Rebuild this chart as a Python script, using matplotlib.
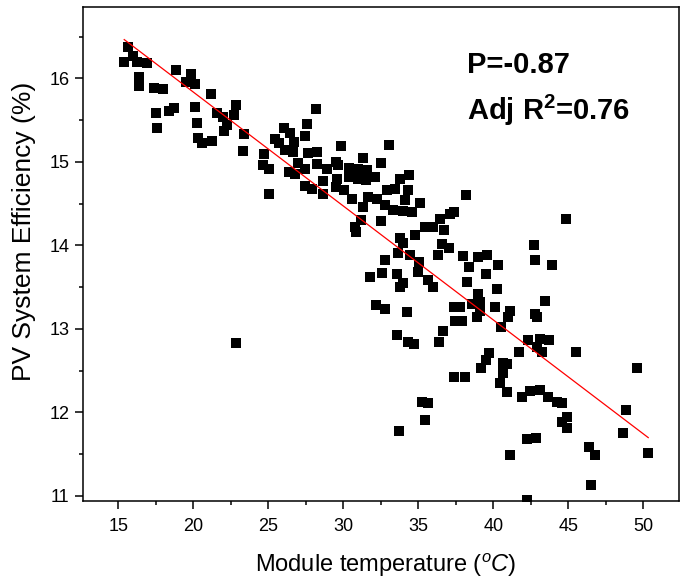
import matplotlib
matplotlib.use("Agg")
import matplotlib.pyplot as plt
from matplotlib.ticker import MultipleLocator

plt.rcParams['font.family'] = ['Liberation Sans', 'DejaVu Sans']
plt.rcParams['mathtext.fontset'] = 'custom'
plt.rcParams['mathtext.rm'] = 'Liberation Sans'
plt.rcParams['mathtext.it'] = 'Liberation Sans:italic'
plt.rcParams['mathtext.bf'] = 'Liberation Sans:bold'

# module temperature (C) and PV system efficiency (%)
temp = [15.63, 15.96, 15.40, 16.23, 16.89, 16.40, 16.40, 17.38, 18.00, 18.83,
        19.83, 19.51, 20.11, 21.16, 17.51, 17.60, 18.40, 18.71, 20.11, 20.23,
        20.33, 20.56, 21.23, 21.60, 21.96, 22.23, 22.05, 22.83, 22.71, 23.40,
        23.33, 24.73, 24.63, 25.05, 25.05, 25.45, 22.83,
        28.18, 27.56, 26.07, 27.45, 26.45, 25.73, 26.71, 26.11, 26.67, 27.63,
        28.27, 27.00, 27.45, 28.23, 26.40, 26.78, 28.89, 29.85, 29.51, 29.67,
        28.63, 27.45, 27.89, 28.67, 29.51, 30.07, 30.40, 30.40, 31.00, 31.33,
        31.00, 31.51, 32.11, 32.49, 33.07, 30.56, 31.29, 31.67, 32.23, 32.78,
        33.33, 34.00, 34.56, 32.89, 33.45, 34.33, 33.78, 34.40, 34.11, 35.11,
        35.45, 34.78, 33.78, 33.96, 30.78, 30.85, 31.16, 32.49, 33.67, 34.45,
        35.07, 32.78, 31.78, 32.56, 33.56, 35.00, 29.56, 31.56,
        38.18, 37.11, 37.38, 36.45, 36.73, 36.00, 36.56, 37.05, 36.33, 37.96,
        39.00, 39.60, 40.29, 38.40, 39.49, 33.78, 33.96, 35.67, 36.00, 38.23,
        39.00, 39.11, 40.27, 32.18, 32.78, 34.27, 37.38, 37.78, 37.45, 37.89,
        38.89, 40.11, 41.11, 41.00, 40.49, 36.62, 36.40, 33.60, 34.29, 34.71,
        41.71, 39.73, 39.51, 39.16, 40.63, 40.67, 37.38, 38.11,
        42.78, 43.89, 43.45, 38.56, 39.11, 42.78, 42.89, 42.33, 43.11, 43.73,
        43.22, 42.89, 45.51, 40.89, 40.44, 40.89, 41.89, 42.45, 43.11, 43.67,
        44.23, 44.56, 44.89, 44.56, 44.89, 35.23, 35.67, 35.45, 33.70, 42.23,
        42.85, 41.11, 46.40, 46.78,
        49.56, 48.83, 48.63, 50.33, 46.51, 42.23, 44.83, 42.71]

eff = [16.38, 16.27, 16.19, 16.19, 16.18, 16.01, 15.91, 15.89, 15.87, 16.10,
       16.05, 15.95, 15.93, 15.81, 15.59, 15.40, 15.61, 15.65, 15.66, 15.46,
       15.29, 15.23, 15.25, 15.58, 15.54, 15.44, 15.37, 15.68, 15.56, 15.33,
       15.13, 15.09, 14.96, 14.92, 14.61, 15.27, 12.83,
       15.63, 15.45, 15.40, 15.31, 15.34, 15.22, 15.24, 15.14, 15.12, 15.10,
       15.12, 14.99, 14.92, 14.98, 14.88, 14.85, 14.91, 15.19, 15.00, 14.96,
       14.77, 14.71, 14.67, 14.62, 14.70, 14.66, 14.93, 14.82, 14.92, 15.05,
       14.80, 14.78, 14.82, 14.99, 15.20, 14.55, 14.46, 14.58, 14.56, 14.48,
       14.42, 14.41, 14.40, 14.66, 14.68, 14.66, 14.80, 14.84, 14.54, 14.51,
       14.22, 14.13, 14.09, 14.03, 14.22, 14.16, 14.30, 14.29, 13.91, 13.88,
       13.80, 13.83, 13.62, 13.67, 13.66, 13.68, 14.80, 14.90,
       14.60, 14.38, 14.40, 14.31, 14.18, 14.22, 14.02, 13.97, 13.88, 13.87,
       13.86, 13.88, 13.77, 13.74, 13.66, 13.50, 13.55, 13.58, 13.50, 13.56,
       13.42, 13.32, 13.48, 13.29, 13.24, 13.20, 13.26, 13.26, 13.10, 13.10,
       13.14, 13.26, 13.21, 13.14, 13.02, 12.98, 12.84, 12.93, 12.84, 12.82,
       12.72, 12.71, 12.63, 12.53, 12.59, 12.47, 12.43, 12.43,
       13.82, 13.76, 13.34, 13.30, 13.22, 13.18, 13.14, 12.87, 12.88, 12.87,
       12.72, 12.78, 12.72, 12.58, 12.35, 12.25, 12.19, 12.26, 12.27, 12.19,
       12.13, 12.11, 11.95, 11.88, 11.81, 12.13, 12.11, 11.91, 11.78, 11.68,
       11.69, 11.49, 11.59, 11.49,
       12.53, 12.03, 11.75, 11.51, 11.13, 10.95, 14.31, 14.01]

# linear fit shown in the reference
fit_slope = -0.1364
fit_intercept = 18.564
stats_text = ["P=-0.87", r"Adj R$^\mathbf{2}$=0.76"]

fig = plt.figure(figsize=(6.8, 5.8), dpi=100)
ax = fig.add_axes([0.1216, 0.1362, 0.8769, 0.8512])

ax.scatter(temp, eff, marker='s', s=55, color='black', linewidths=0, zorder=2)

fx = [min(temp), max(temp)]
fy = [fit_intercept + fit_slope * v for v in fx]
ax.plot(fx, fy, color='red', linewidth=0.9, zorder=3)

ax.set_xlim(12.63, 52.38)
ax.set_ylim(10.94, 16.85)
ax.xaxis.set_major_locator(MultipleLocator(5))
ax.xaxis.set_minor_locator(MultipleLocator(2.5))
ax.yaxis.set_major_locator(MultipleLocator(1))
ax.yaxis.set_minor_locator(MultipleLocator(0.5))
ax.tick_params(which='major', direction='out', length=6, width=1.1, labelsize=13)
ax.tick_params(axis='x', which='major', pad=6)
ax.tick_params(which='minor', direction='out', length=3.2, width=1.1)
for sp in ax.spines.values():
    sp.set_linewidth(1.1)

ax.set_xlabel(r'Module temperature ($^{o}\mathit{C}$)', fontsize=17)
ax.set_ylabel('PV System Efficiency (%)', fontsize=19)
ax.xaxis.set_label_coords(0.508, -0.103)
ax.yaxis.set_label_coords(-0.078, 0.547)

ax.text(0.644, 0.883, stats_text[0], transform=ax.transAxes, fontsize=21,
        fontweight='bold', ha='left', va='center')
ax.text(0.644, 0.792, stats_text[1], transform=ax.transAxes, fontsize=21,
        fontweight='bold', ha='left', va='center')

fig.savefig('out.png', dpi=100)
